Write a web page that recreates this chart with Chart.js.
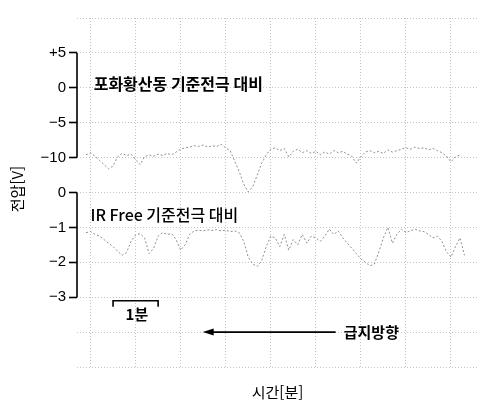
<!DOCTYPE html>
<html lang="ko">
<head>
<meta charset="utf-8">
<title>전압 측정</title>
<script src="https://cdn.jsdelivr.net/npm/chart.js@4.4.1/dist/chart.umd.min.js"></script>
<style>
    html, body { margin: 0; padding: 0; background: #fff; }
    #wrap { width: 483px; height: 404px; position: relative; }
</style>
</head>
<body>
<div id="wrap"><canvas id="voltChart"></canvas></div>
<script>
// 시간 [분] (격자 한 칸 = 1분)
const minutes = [
    -0.1, 0, 0.1, 0.2, 0.3, 0.4, 0.5, 0.6, 0.7, 0.8, 0.9,
    1.0, 1.1, 1.2, 1.3, 1.4, 1.5, 1.6, 1.7, 1.8, 1.9,
    2.0, 2.1, 2.2, 2.3, 2.4, 2.5, 2.6, 2.7, 2.8, 2.9,
    3.0, 3.1, 3.2, 3.3, 3.4, 3.5, 3.6, 3.7, 3.8, 3.9,
    4.0, 4.1, 4.2, 4.3, 4.4, 4.5, 4.6, 4.7, 4.8, 4.9,
    5.0, 5.1, 5.2, 5.3, 5.4, 5.5, 5.6, 5.7, 5.8, 5.9,
    6.0, 6.1, 6.2, 6.3, 6.4, 6.5, 6.6, 6.7, 6.8, 6.9,
    7.0, 7.1, 7.2, 7.3, 7.4, 7.5, 7.6, 7.7, 7.8, 7.9,
    8.0, 8.1, 8.2, 8.3
];

// 포화황산동 기준전극 대비 [V]
const cseVolts = [
    -9.6, -9.3, -9.8, -10.4, -11.0, -11.6, -11.2, -9.9, -9.4, -9.7, -9.5,
    -10.3, -11.0, -9.9, -9.6, -9.8, -9.5, -9.7, -9.4, -9.6, -9.2,
    -8.8, -8.6, -8.5, -8.3, -8.4, -8.2, -8.5, -8.3, -8.4, -8.1,
    -8.6, -9.0, -10.5, -12.0, -13.8, -14.9, -14.2, -12.5, -10.8, -9.6,
    -8.8, -8.6, -9.0, -8.7, -9.9, -9.1, -8.8, -9.3, -9.0, -9.4,
    -9.1, -9.6, -9.2, -9.5, -9.0, -9.3, -9.1, -9.5, -9.8, -10.8,
    -9.9, -9.2, -9.0, -9.3, -9.1, -9.4, -8.9, -9.2, -9.0, -8.8,
    -8.6, -8.8, -8.5, -8.7, -8.6, -8.9, -8.7, -9.0, -9.3, -9.8,
    -10.6, -9.9, -9.6, null
];

// IR Free 기준전극 대비 [V]
const irFreeVolts = [
    -1.15, -1.12, -1.20, -1.25, -1.35, -1.45, -1.55, -1.68, -1.80, -1.72, -1.40,
    -1.22, -1.18, -1.30, -1.75, -1.60, -1.25, -1.15, -1.20, -1.18, -1.35,
    -1.65, -1.50, -1.20, -1.10, -1.08, -1.10, -1.07, -1.09, -1.06, -1.10,
    -1.08, -1.12, -1.10, -1.15, -1.40, -1.85, -2.05, -2.12, -1.95, -1.55,
    -1.25, -1.30, -1.55, -1.20, -1.65, -1.35, -1.50, -1.20, -1.45, -1.25,
    -1.30, -1.40, -1.25, -1.05, -1.20, -1.10, -1.30, -1.45, -1.60, -1.75,
    -1.90, -2.00, -2.10, -2.05, -1.70, -1.30, -1.00, -1.45, -1.20, -1.05,
    -1.15, -1.10, -1.05, -1.10, -1.12, -1.20, -1.30, -1.25, -1.40, -1.70,
    -1.85, -1.55, -1.30, -1.80
];

// 눈금
const topTicks = [5, 0, -5, -10];
const topGrid = [10, 5, 0, -5, -10];
const bottomTicks = [0, -1, -2, -3];
const bottomGrid = [0, -1, -2, -3, -4, -5];
const timeGrid = [0, 1, 2, 3, 4, 5, 6, 7, 8];

const traceColor = '#8f8f8f';
const gridColor = '#c4c4c4';
const labelFont = { family: '"Liberation Sans", Arial, sans-serif', size: 15 };

function voltLabel(value, shown) {
    if (!shown.includes(value)) return '';
    if (value > 0) return '+' + value;
    return String(value).replace('-', '\u2212');
}

function tickColorFor(shown) {
    return (ctx) => (ctx.tick && shown.includes(ctx.tick.value)) ? '#000' : 'rgba(0,0,0,0)';
}

// 글자, 1분 표시, 급지방향 화살표, 세로축 선
const notesPlugin = {
    id: 'patentNotes',
    afterDraw(chart) {
        const { ctx, scales: { x, yTop, yBot } } = chart;
        const axisX = chart.chartArea.left;
        ctx.save();
        ctx.fillStyle = '#000';
        ctx.strokeStyle = '#000';

        // 세로축 선
        ctx.lineWidth = 1.6;
        ctx.beginPath();
        ctx.moveTo(axisX, yTop.getPixelForValue(topTicks[0]));
        ctx.lineTo(axisX, yTop.getPixelForValue(topTicks[topTicks.length - 1]));
        ctx.moveTo(axisX, yBot.getPixelForValue(bottomTicks[0]));
        ctx.lineTo(axisX, yBot.getPixelForValue(bottomTicks[bottomTicks.length - 1]));
        ctx.stroke();

        // 축 제목 (세로)
        ctx.save();
        ctx.translate(17, yBot.getPixelForValue(0.1));
        ctx.rotate(-Math.PI / 2);
        ctx.font = '15px "Noto Sans CJK KR"';
        ctx.textAlign = 'center';
        ctx.textBaseline = 'middle';
        ctx.fillText('전압[V]', 0, 0);
        ctx.restore();

        ctx.textBaseline = 'middle';
        ctx.textAlign = 'left';
        ctx.font = 'bold 16px "Noto Sans CJK KR"';
        ctx.fillText('포화황산동 기준전극 대비', x.getPixelForValue(0.07), yTop.getPixelForValue(0.6));
        ctx.font = '500 16px "Noto Sans CJK KR"';
        ctx.fillText('IR Free 기준전극 대비', x.getPixelForValue(0), yBot.getPixelForValue(-0.63));

        // 1분 스케일
        const b1 = x.getPixelForValue(0.5);
        const b2 = x.getPixelForValue(1.5);
        const by = yBot.getPixelForValue(-3.1);
        ctx.lineWidth = 1.6;
        ctx.beginPath();
        ctx.moveTo(b1, by + 6);
        ctx.lineTo(b1, by);
        ctx.lineTo(b2, by);
        ctx.lineTo(b2, by + 6);
        ctx.stroke();
        ctx.font = 'bold 15px "Noto Sans CJK KR"';
        ctx.textAlign = 'center';
        ctx.fillText('1분', x.getPixelForValue(1.03), yBot.getPixelForValue(-3.5));

        // 급지방향 화살표
        const ay = yBot.getPixelForValue(-4);
        const aTip = x.getPixelForValue(2.49);
        const aTail = x.getPixelForValue(5.44);
        ctx.lineWidth = 1.8;
        ctx.beginPath();
        ctx.moveTo(aTail, ay);
        ctx.lineTo(aTip + 8, ay);
        ctx.stroke();
        ctx.beginPath();
        ctx.moveTo(aTip, ay);
        ctx.lineTo(aTip + 11, ay - 3.5);
        ctx.lineTo(aTip + 11, ay + 3.5);
        ctx.closePath();
        ctx.fill();
        ctx.textAlign = 'left';
        ctx.fillText('급지방향', x.getPixelForValue(5.62), ay);

        ctx.restore();
    }
};

const voltChart = new Chart(document.getElementById('voltChart'), {
    type: 'line',
    data: {
        labels: minutes,
        datasets: [
            {
                label: '포화황산동 기준전극 대비',
                data: cseVolts,
                yAxisID: 'yTop',
                borderColor: traceColor,
                borderWidth: 1,
                borderDash: [2, 2],
                pointRadius: 0,
                tension: 0,
                clip: false
            },
            {
                label: 'IR Free 기준전극 대비',
                data: irFreeVolts,
                yAxisID: 'yBot',
                borderColor: traceColor,
                borderWidth: 1,
                borderDash: [2, 2],
                pointRadius: 0,
                tension: 0,
                clip: false
            }
        ]
    },
    options: {
        responsive: true,
        maintainAspectRatio: false,
        animation: false,
        layout: { padding: { top: 18, right: 5, bottom: 0, left: 0 } },
        plugins: {
            legend: { display: false },
            tooltip: { enabled: false }
        },
        scales: {
            x: {
                type: 'linear',
                min: -0.3,
                max: 8.6,
                afterBuildTicks: (scale) => { scale.ticks = timeGrid.map(v => ({ value: v })); },
                afterFit: (scale) => { scale.height = 37; },
                ticks: { display: false },
                grid: { color: gridColor, lineWidth: 1, drawTicks: false },
                border: { display: false, dash: [1, 2] },
                title: {
                    display: true,
                    text: '시간[분]',
                    color: '#000',
                    font: { family: '"Noto Sans CJK KR"', size: 15 },
                    padding: { top: 0, bottom: 3 }
                }
            },
            yBot: {
                type: 'linear',
                position: 'left',
                stack: 'volts',
                stackWeight: 5.5,
                min: -5,
                max: 0.5,
                afterBuildTicks: (scale) => { scale.ticks = bottomGrid.map(v => ({ value: v })); },
                afterFit: (scale) => { scale.width = 77; },
                ticks: {
                    color: '#000',
                    font: labelFont,
                    padding: 3,
                    callback: (v) => voltLabel(v, bottomTicks)
                },
                grid: {
                    color: gridColor,
                    tickLength: 8,
                    tickWidth: 1.6,
                    tickColor: tickColorFor(bottomTicks)
                },
                border: { display: false, dash: [1, 2] }
            },
            yTop: {
                type: 'linear',
                position: 'left',
                stack: 'volts',
                stackWeight: 4.5,
                min: -12.5,
                max: 10,
                afterBuildTicks: (scale) => { scale.ticks = topGrid.map(v => ({ value: v })); },
                afterFit: (scale) => { scale.width = 77; },
                ticks: {
                    color: '#000',
                    font: labelFont,
                    padding: 3,
                    callback: (v) => voltLabel(v, topTicks)
                },
                grid: {
                    color: gridColor,
                    tickLength: 8,
                    tickWidth: 1.6,
                    tickColor: tickColorFor(topTicks)
                },
                border: { display: false, dash: [1, 2] }
            }
        }
    },
    plugins: [notesPlugin]
});
</script>
</body>
</html>
